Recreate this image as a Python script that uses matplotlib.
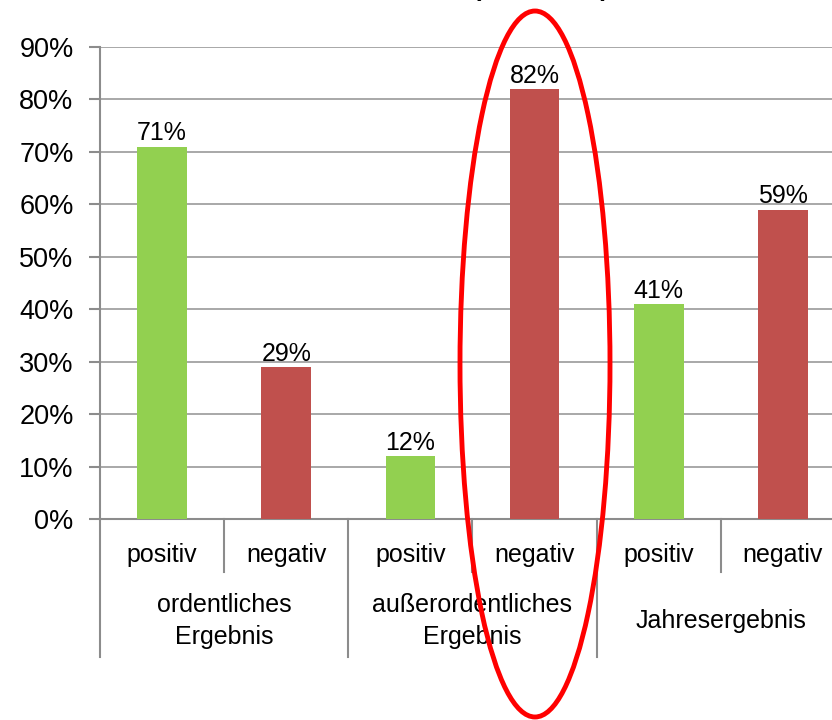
import matplotlib.pyplot as plt
from matplotlib.patches import Ellipse

plt.rcParams['font.family'] = ['Liberation Sans', 'DejaVu Sans']

# data
bar_labels = ['positiv', 'negativ', 'positiv', 'negativ', 'positiv', 'negativ']
groups = ['ordentliches\nErgebnis', 'außerordentliches\nErgebnis', 'Jahresergebnis']
values = [71, 29, 12, 82, 41, 59]
colors = ['#92D050', '#C0504D', '#92D050', '#C0504D', '#92D050', '#C0504D']

fig = plt.figure(figsize=(8.32, 7.2), dpi=100)
ax = fig.add_axes([100 / 832, 1 - 519 / 720, 745 / 832, 472 / 720])

x = list(range(len(values)))
bars = ax.bar(x, values, width=0.4, color=colors, zorder=3)

for b, v in zip(bars, values):
    ax.annotate(f'{v}%', xy=(b.get_x() + b.get_width() / 2, v), xytext=(0, 1),
                textcoords='offset points', ha='center', va='bottom', fontsize=18)

ax.set_xlim(-0.5, 5.5)
ax.set_ylim(0, 90)
ax.set_yticks(range(0, 91, 10))
ax.set_yticklabels([f'{t}%' for t in range(0, 91, 10)], fontsize=19.5)
ax.yaxis.grid(True, color='#999999', linewidth=1.2, zorder=0)
ax.set_xticks([])

for s in ['top', 'right']:
    ax.spines[s].set_visible(False)
ax.spines['left'].set_color('#8c8c8c')
ax.spines['bottom'].set_color('#8c8c8c')
ax.spines['left'].set_linewidth(1.5)
ax.spines['bottom'].set_linewidth(1.5)
ax.tick_params(axis='y', length=8, color='#8c8c8c', width=1.5, pad=11)

# category separators below the axis
tr = ax.get_xaxis_transform()
for sx in [-0.5, 1.5, 3.5, 5.5]:
    ax.plot([sx, sx], [0, -0.292], transform=tr, color='#8c8c8c', lw=1.5, clip_on=False)
for sx in [0.5, 2.5, 4.5]:
    ax.plot([sx, sx], [0, -0.112], transform=tr, color='#8c8c8c', lw=1.5, clip_on=False)

for i, lab in enumerate(bar_labels):
    ax.text(i, -0.076, lab, transform=tr, ha='center', va='center', fontsize=18)
for g, lab in enumerate(groups):
    ax.text(2 * g + 0.5, -0.216, lab, transform=tr, ha='center', va='center',
            fontsize=18, linespacing=1.4)

# cut-off title
fig.text(541 / 832, 1 + 4 / 720, '(                 )', ha='center', va='baseline',
         fontsize=18, fontweight='bold')

# red ellipse highlight
ell = Ellipse((535 / 832, 1 - 364 / 720), 150 / 832, 706 / 720, transform=fig.transFigure,
              fill=False, edgecolor='#FF0000', linewidth=3.5, zorder=10)
fig.patches.append(ell)

fig.savefig('out.png', dpi=100)
